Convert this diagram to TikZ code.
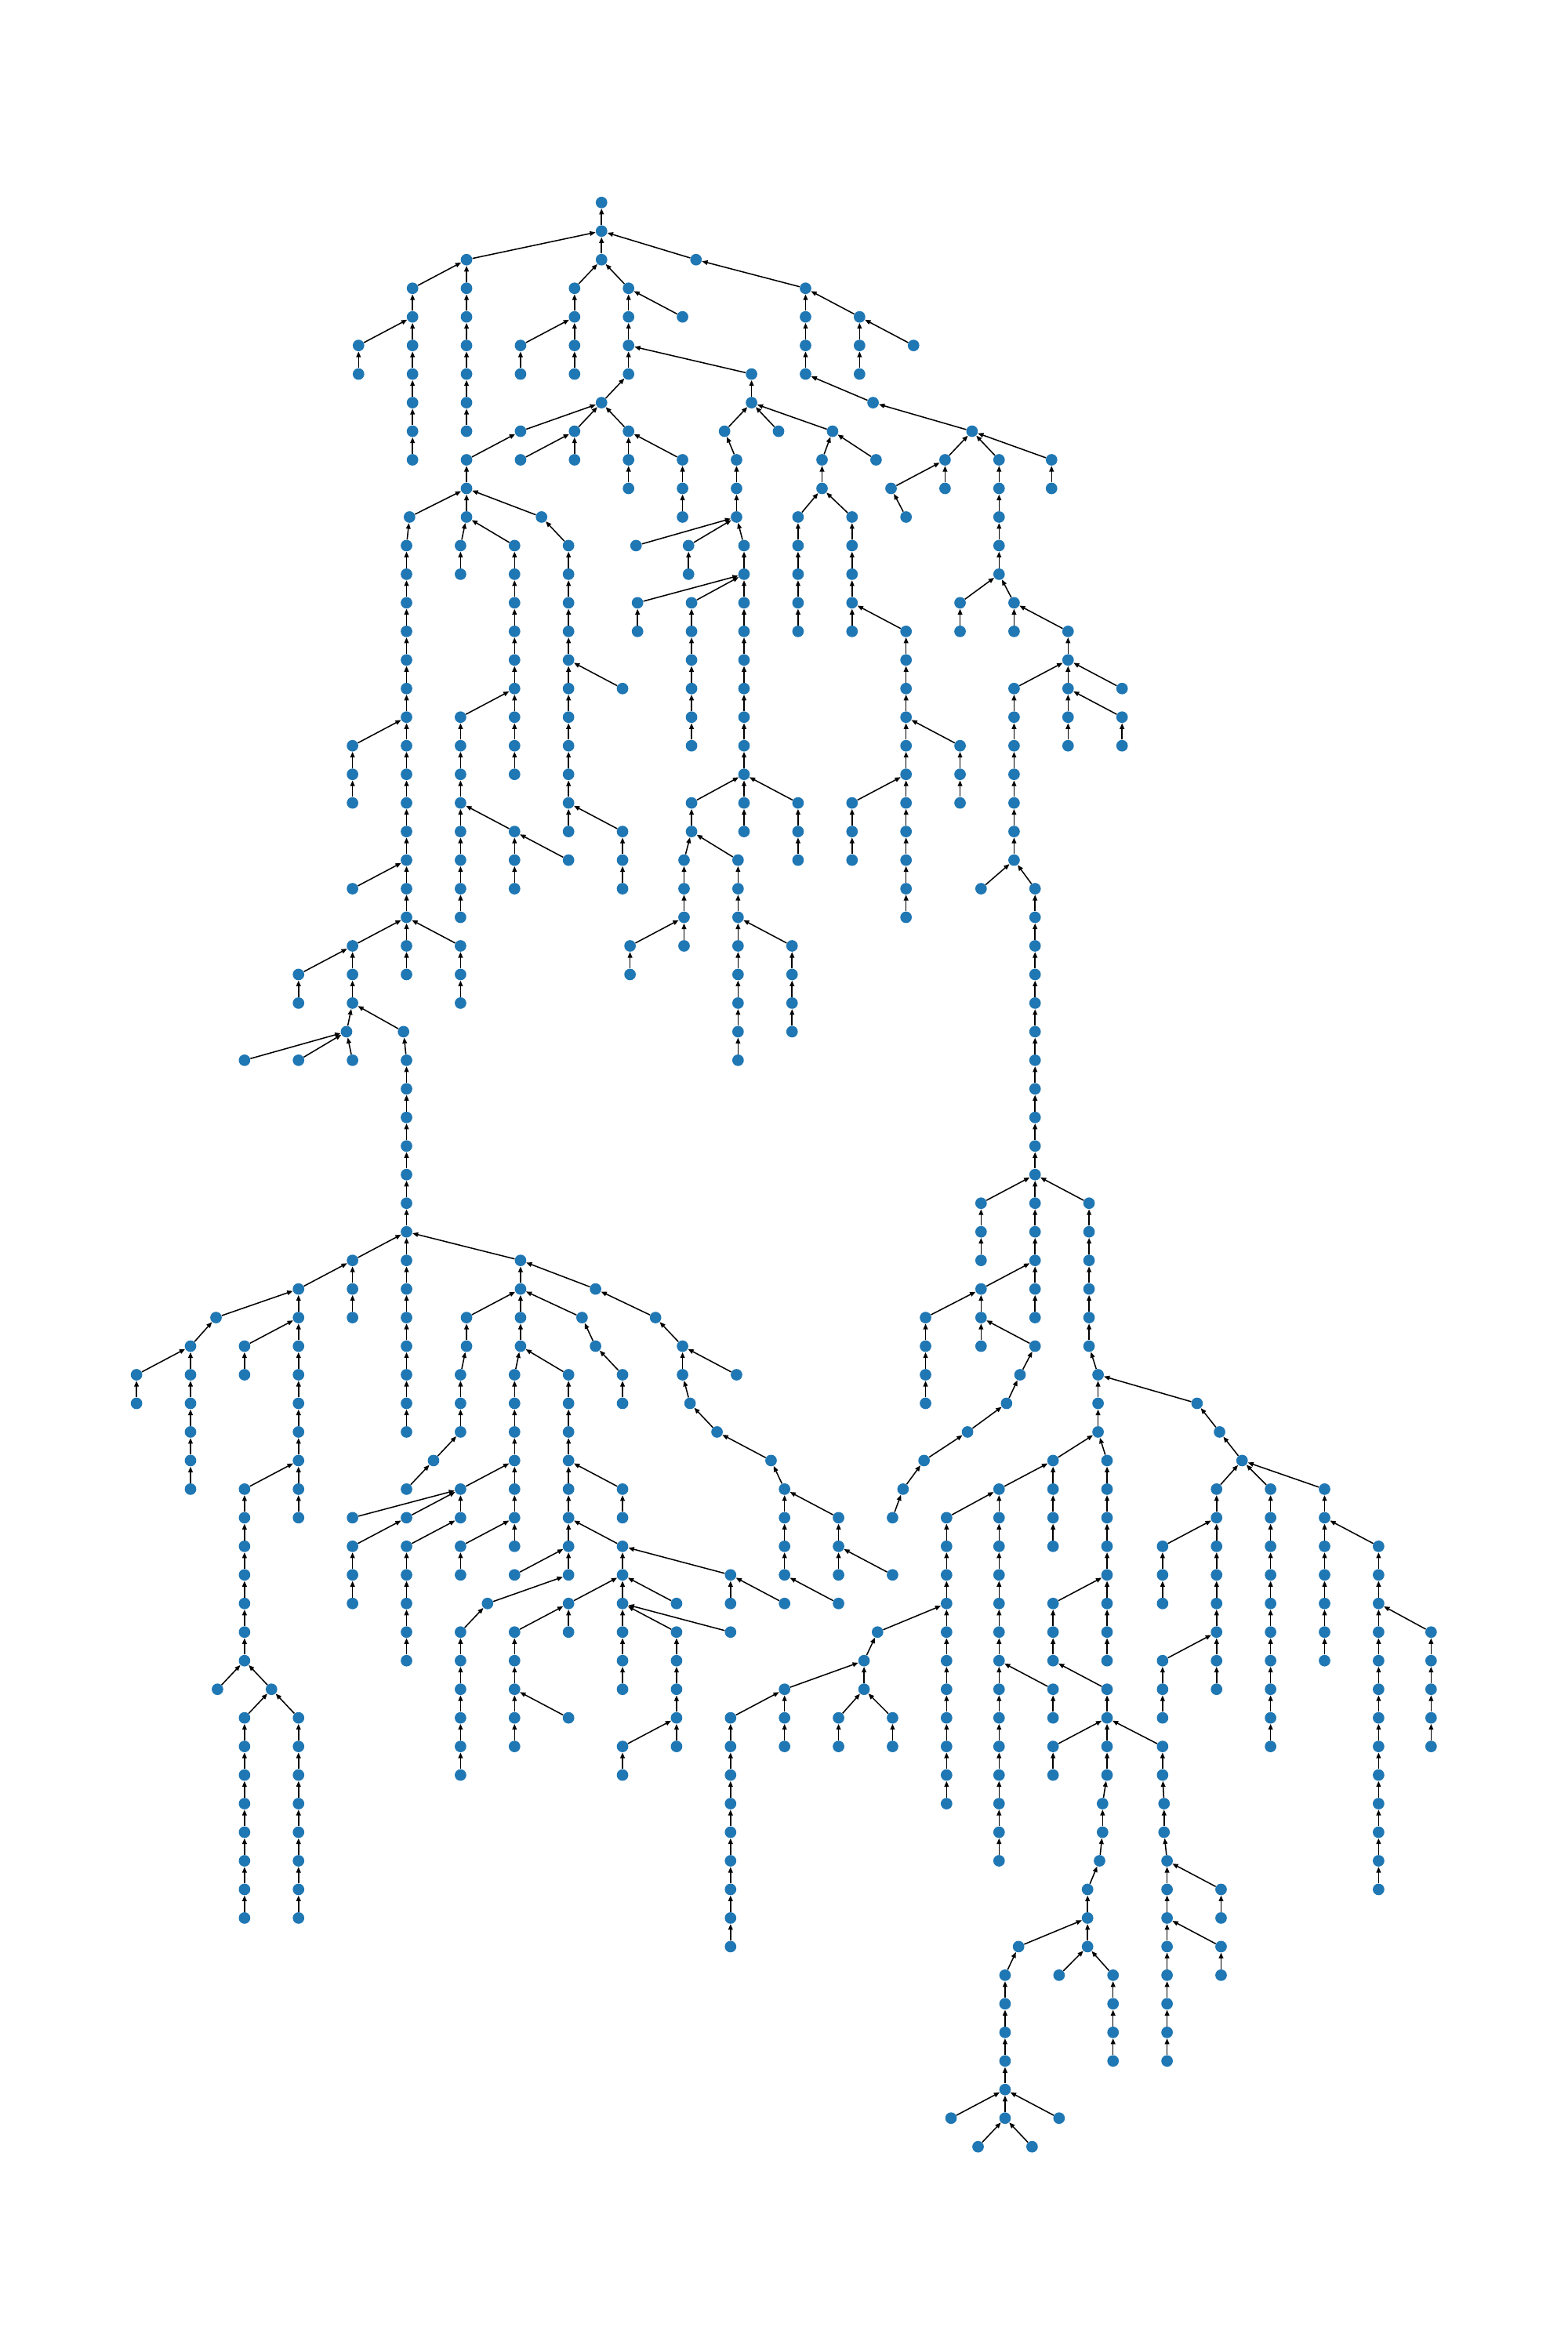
\documentclass[tikz,border=0pt]{standalone}
\usepackage{xcolor}
\usepackage{tikz}
\usetikzlibrary{arrows.meta}
\definecolor{nodeblue}{RGB}{31,119,180}

% vertical runs of nodes: x / first level / last level
\def\runs{401/0/2, 311/2/8, 464/2/2, 275/3/9, 239/5/6, 383/3/6, 347/5/6, 419/3/6, 455/4/4, 401/7/7,
347/8/8, 383/8/9, 347/9/9, 419/8/10, 455/9/11, 311/9/11, 273/11/11, 271/12/27, 307/12/13, 343/12/20,
361/11/11, 379/12/22, 415/17/17, 415/22/24, 307/18/25, 343/22/24, 379/23/23, 235/19/21, 235/24/24,
235/26/28, 307/26/28, 199/27/28, 231/29/29, 269/29/29, 163/30/30, 199/30/30, 235/30/30, 271/30/43,
235/37/39, 199/38/46, 144/39/39, 127/40/45, 91/41/42, 163/40/41, 163/45/51, 145/52/52, 181/52/52,
163/53/60, 199/53/60, 347/37/40, 397/38/38, 311/39/40, 307/41/43, 289/44/44, 271/45/45, 388/39/39,
397/40/40, 415/41/42, 437/39/39, 455/40/41, 491/41/41, 460/42/42, 478/43/43, 514/44/44, 523/45/48,
559/46/48, 595/48/48, 559/49/49, 343/41/47, 379/41/48, 379/49/50, 307/45/46, 235/46/46, 271/46/46,
271/47/51, 235/47/49,
307/47/48, 343/48/48, 325/49/49, 307/50/55, 343/50/54, 379/53/53, 415/45/46, 415/47/52, 487/48/49,
523/49/49, 451/49/49, 451/50/54, 487/50/50, 415/54/55, 537/3/6, 573/4/6, 609/5/5, 582/7/7, 648/8/8,
630/9/10, 594/10/10, 604/11/11, 666/9/13, 701/9/10, 640/14/15, 676/14/15, 712/15/19, 676/17/23,
748/17/17, 748/18/19, 654/24/24, 690/24/39, 654/35/37, 654/38/40, 617/39/42, 690/40/40, 680/41/41,
671/42/42, 645/43/43, 616/44/44, 602/45/45, 595/46/46, 726/35/40, 732/41/43, 798/42/42, 813/43/43,
828/44/44, 811/45/52, 775/47/49, 775/51/53, 847/45/54, 883/45/51, 919/47/59, 954/50/54, 702/44/47,
738/44/51, 666/45/58, 702/49/51, 702/52/53, 738/52/55, 702/54/55, 775/54/55, 776/56/57, 778/58/65,
814/59/60, 814/61/62, 735/56/57, 733/58/58, 725/59/61, 679/61/61, 670/62/67, 706/62/62, 742/62/65,
634/67/67, 706/67/67, 652/68/68, 688/68/68, 631/46/56, 585/50/50, 576/51/52, 559/53/54, 595/53/54,
523/52/54, 487/53/61, 501/6/7, 483/8/8, 519/8/8, 555/8/8, 491/9/11, 424/12/12, 459/12/13, 496/12/22,
425/14/15, 461/14/19, 461/21/22, 532/21/23, 456/23/26, 420/26/27, 492/23/30, 528/26/29, 548/9/10,
584/9/9, 532/11/15, 568/11/15, 604/15/25, 640/19/21, 568/21/23}

% links that leave a run: child / parent
\def\links{311L2/401L1, 464L2/401L1, 275L3/311L2, 239L5/275L4, 383L3/401L2, 347L5/383L4, 419L3/401L2,
455L4/419L3, 401L7/419L6, 347L8/401L7, 383L8/401L7, 347L9/383L8, 419L8/401L7, 455L9/419L8,
311L9/347L8, 273L11/311L10, 271L12/273L11, 307L12/311L11, 343L12/311L11, 361L11/311L10,
379L12/361L11, 415L17/379L16, 415L22/379L21, 307L18/343L17, 343L22/307L21, 379L23/343L22,
235L19/271L18, 235L24/271L23, 235L26/271L25, 307L26/271L25, 199L27/235L26, 231L29/235L28,
269L29/235L28, 163L30/231L29, 199L30/231L29, 235L30/231L29, 271L30/269L29, 235L37/271L36,
199L38/235L37, 144L39/199L38, 127L40/144L39, 91L41/127L40, 163L40/199L39, 163L45/199L44,
145L52/163L51, 181L52/163L51, 163L53/181L52, 199L53/181L52, 347L37/271L36, 397L38/347L37,
311L39/347L38, 307L41/311L40, 289L44/307L43, 271L45/289L44, 388L39/347L38, 397L40/388L39,
415L41/397L40, 437L39/397L38, 455L40/437L39, 491L41/455L40, 460L42/455L41, 478L43/460L42,
514L44/478L43, 523L45/514L44, 559L46/523L45, 595L48/559L47, 559L49/523L48, 343L41/347L40,
379L41/347L40, 307L45/343L44, 235L46/307L45, 271L46/307L45, 235L47/271L46, 271L47/307L46,
307L47/343L46, 379L49/415L48,
343L48/379L47, 325L49/379L48, 307L50/325L49, 343L50/379L49, 379L53/343L52, 415L45/379L44,
415L47/379L46, 487L48/415L47, 523L49/487L48, 451L49/415L48, 451L50/415L49, 487L50/415L49,
415L54/451L53, 537L3/464L2, 573L4/537L3, 609L5/573L4, 582L7/537L6, 648L8/582L7, 630L9/648L8,
594L10/630L9, 604L11/594L10, 666L9/648L8, 701L9/648L8, 640L14/666L13, 676L14/666L13,
712L15/676L14, 676L17/712L16, 748L17/712L16, 748L18/712L17, 654L24/676L23, 690L24/676L23,
654L35/690L34, 654L38/690L37, 617L39/654L38, 690L40/654L39, 680L41/690L40, 671L42/680L41,
645L43/671L42, 616L44/645L43, 602L45/616L44, 595L46/602L45, 726L35/690L34, 732L41/726L40,
798L42/732L41, 813L43/798L42, 828L44/813L43, 811L45/828L44, 775L47/811L46, 775L51/811L50,
847L45/828L44, 883L45/828L44, 919L47/883L46, 954L50/919L49, 702L44/732L43, 738L44/732L43,
666L45/702L44, 702L49/738L48, 702L52/666L51, 738L52/702L51, 702L54/738L53, 775L54/738L53,
776L56/775L55, 778L58/776L57, 814L59/778L58, 814L61/778L60, 735L56/738L55, 733L58/735L57,
725L59/733L58, 679L61/725L60, 670L62/679L61, 706L62/725L61, 742L62/725L61, 634L67/670L66,
706L67/670L66, 652L68/670L67, 688L68/670L67, 631L46/666L45, 585L50/631L49, 576L51/585L50,
559L53/576L52, 595L53/576L52, 523L52/576L51, 487L53/523L52, 501L6/419L5, 483L8/501L7,
519L8/501L7, 555L8/501L7, 491L9/483L8, 424L12/491L11, 459L12/491L11, 496L12/491L11,
425L14/496L13, 461L14/496L13, 461L21/496L20, 532L21/496L20, 456L23/461L22, 420L26/456L25,
492L23/461L22, 528L26/492L25, 548L9/555L8, 584L9/555L8, 532L11/548L10, 568L11/548L10,
604L15/568L14, 640L19/604L18, 568L21/604L20}

\begin{document}
\begin{tikzpicture}[x=1pt,y=-19.06pt,
  vtx/.style={circle,fill=nodeblue,draw=none,inner sep=0pt,minimum size=7.7pt},
  lnk/.style={-{Triangle[length=3.8pt,width=3pt]},line width=0.8pt,black}]
\useasboundingbox (0,-7.083) rectangle (1045,75.18);

% Nodes
\foreach \cx/\cfirst/\clast in \runs {
  \foreach \lv in {\cfirst,...,\clast} {
    \node[vtx] (n\cx L\lv) at (\cx,\lv) {};
  }
}

%Straight Lines inside each run
\foreach \cx/\cfirst/\clast in \runs {
  \ifnum\cfirst<\clast\relax
    \pgfmathtruncatemacro\cnext{\cfirst+1}
    \foreach \lv in {\cnext,...,\clast} {
      \pgfmathtruncatemacro\lup{\lv-1}
      \draw[lnk] (n\cx L\lv) -- (n\cx L\lup);
    }
  \fi
}

%Straight Lines between runs
\foreach \kid/\mom in \links {
  \draw[lnk] (n\kid) -- (n\mom);
}

\end{tikzpicture}
\end{document}
